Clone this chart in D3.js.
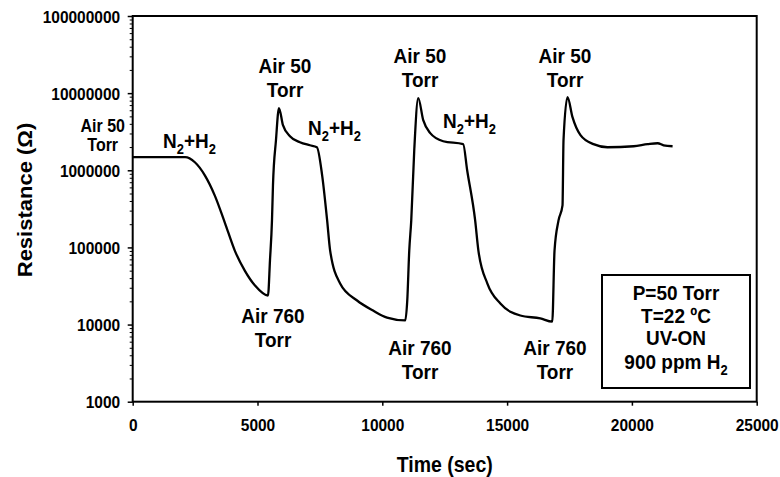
<!DOCTYPE html>
<html>
<head>
<meta charset="utf-8">
<script src="https://cdn.jsdelivr.net/npm/d3@7"></script>
<style>
  html, body { margin: 0; padding: 0; background: #fff; }
  svg { display: block; font-family: "Liberation Sans", Arial, Helvetica, sans-serif; }
</style>
</head>
<body>
<svg id="chart" width="780" height="477"></svg>
<script>
// Sensor resistance versus time, log scale
const timeSec = [0, 2100, 2490, 2890, 3290, 3690, 4090, 4490, 4900, 5420,
  5500, 5580, 5620, 5740, 5860, 6020, 6300, 6700, 7100, 7380,
  7590, 7790, 7910, 8310, 8990, 9630, 10190, 10920, 11000, 11080,
  11160, 11280, 11440, 11640, 11920, 12440, 13240, 13400, 13720, 13850,
  14210, 14730, 15530, 16330, 16810, 16900, 17060, 17220, 17260, 17420,
  17620, 17940, 18460, 19020, 20070, 20630, 21030, 21270, 21630];

const resistanceOhm = [1.48e6, 1.48e6, 1.27e6, 8.6e5, 4.7e5, 2.1e5, 9.1e4, 5.0e4, 3.2e4, 2.38e4,
  6.8e4, 2.24e5, 6.4e5, 2.45e6, 6.4e6, 3.84e6, 2.77e6, 2.31e6, 2.11e6, 1.99e6,
  8.6e5, 2.24e5, 9.1e4, 3.4e4, 2.05e4, 1.52e4, 1.23e4, 1.13e4, 2.05e4, 9.1e4,
  2.24e5, 1.82e6, 8.6e6, 4.46e6, 3.03e6, 2.38e6, 2.18e6, 1.0e6, 2.24e5, 9.1e4,
  3.4e4, 1.87e4, 1.31e4, 1.2e4, 1.09e4, 9.1e4, 2.24e5, 3.5e5, 2.45e6, 8.9e6,
  4.88e6, 2.85e6, 2.18e6, 1.99e6, 2.05e6, 2.18e6, 2.24e6, 2.11e6, 2.05e6];

const xTickValues = [0, 5000, 10000, 15000, 20000, 25000];
const yTickValues = [1e3, 1e4, 1e5, 1e6, 1e7, 1e8];

// Gas-switch annotations, anchored in data space (first line baseline)
const annotations = [
  { lines: ["N_2+H_2"], t: 1214, r: 1.93e6, anchor: "start" },
  { lines: ["N_2+H_2"], t: 7023, r: 2.85e6, anchor: "start" },
  { lines: ["N_2+H_2"], t: 12432, r: 3.51e6, anchor: "start" },
  { lines: ["Air 50", "Torr"], t: 6102, r: 1.81e7, anchor: "middle" },
  { lines: ["Air 50", "Torr"], t: 11510, r: 2.44e7, anchor: "middle" },
  { lines: ["Air 50", "Torr"], t: 17320, r: 2.44e7, anchor: "middle" },
  { lines: ["Air 760", "Torr"], t: 5621, r: 1.045e4, anchor: "middle" },
  { lines: ["Air 760", "Torr"], t: 11510, r: 4.03e3, anchor: "middle" },
  { lines: ["Air 760", "Torr"], t: 16917, r: 4.03e3, anchor: "middle" }
];
const startLabel = ["Air 50", "Torr"];
const conditions = ["P=50 Torr", "T=22 ºC", "UV-ON", "900 ppm H_2"];

const svg = d3.select("#chart");
const W = 780, H = 477;
const margin = { top: 16, right: 23.3, bottom: 75.3, left: 132.7 };
const x0 = margin.left, x1 = W - margin.right;
const y0 = H - margin.bottom, y1 = margin.top;
const STRETCH = 1.1;

const x = d3.scaleLinear().domain([0, 25000]).range([x0, x1]);
const y = d3.scaleLog().domain([1e3, 1e8]).range([y0, y1]);

// Text helper: supports "_d" subscripts and a slight vertical stretch
function addText(parent, px, py, str, size, anchor, rotate) {
  const t = parent.append("text")
    .attr("transform", `translate(${px},${py}) scale(1,${STRETCH})` + (rotate ? ` rotate(${rotate})` : ""))
    .attr("text-anchor", anchor)
    .attr("font-size", size)
    .attr("font-weight", "bold")
    .attr("fill", "#000");
  const parts = str.split(/_(\d)/);
  let sub = false;
  parts.forEach((p, i) => {
    if (p === "") return;
    const isSub = i % 2 === 1;
    const ts = t.append("tspan").text(p);
    if (isSub && !sub) { ts.attr("dy", size * 0.28).attr("font-size", size * 0.68); sub = true; }
    else if (!isSub && sub) { ts.attr("dy", -size * 0.28); sub = false; }
  });
  return t;
}

// Plot frame
svg.append("rect")
  .attr("x", x0).attr("y", y1)
  .attr("width", x1 - x0).attr("height", y0 - y1)
  .attr("fill", "none").attr("stroke", "#000").attr("stroke-width", 2);

// X axis
const gx = svg.append("g").attr("transform", `translate(0,${y0})`)
  .call(d3.axisBottom(x).tickValues(xTickValues).tickSize(4).tickSizeOuter(0).tickFormat(d3.format("d")));
gx.select(".domain").remove();
gx.selectAll(".tick text").remove();
gx.selectAll(".tick line").attr("stroke", "#000").attr("stroke-width", 1.5);
gx.selectAll(".tick").each(function (d) {
  addText(d3.select(this), 0, 29.3, d3.format("d")(d), 15.5, "middle");
});

// Y axis: decades labelled, log minor ticks unlabelled
const gy = svg.append("g").attr("transform", `translate(${x0},0)`)
  .call(d3.axisLeft(y).tickValues(yTickValues).tickSize(5).tickSizeOuter(0).tickFormat(d3.format("d")));
gy.select(".domain").remove();
gy.selectAll(".tick text").remove();
gy.selectAll(".tick line").attr("stroke", "#000").attr("stroke-width", 1.5);
gy.selectAll(".tick").each(function (d) {
  addText(d3.select(this), -12.5, 6, d3.format("d")(d), 15.5, "end");
});
const minor = y.ticks().filter(v => Math.abs(Math.log10(v) - Math.round(Math.log10(v))) > 1e-9);
const gyMinor = svg.append("g").attr("transform", `translate(${x0},0)`)
  .call(d3.axisLeft(y).tickValues(minor).tickSize(3).tickSizeOuter(0).tickFormat(""));
gyMinor.select(".domain").remove();
gyMinor.selectAll(".tick line").attr("stroke", "#000").attr("stroke-width", 1);

// Axis titles
addText(svg, (x0 + x1) / 2, 472, "Time (sec)", 19.5, "middle");
addText(svg, 32, 200, "Resistance (Ω)", 20, "middle", -90);

// Resistance trace
const series = timeSec.map((t, i) => ({ t, r: resistanceOhm[i] }));
svg.append("path")
  .datum(series)
  .attr("fill", "none")
  .attr("stroke", "#000")
  .attr("stroke-width", 2.3)
  .attr("stroke-linejoin", "round")
  .attr("d", d3.line().x(d => x(d.t)).y(d => y(d.r)).curve(d3.curveMonotoneX));

// Annotations
annotations.forEach(a => {
  a.lines.forEach((ln, i) => addText(svg, x(a.t), y(a.r) + i * 24, ln, 19, a.anchor));
});
startLabel.forEach((ln, i) => addText(svg, x0 - 30, y(3.12e6) + i * 19, ln, 16, "middle"));

// Conditions box
const bx0 = x1 - 154.7, bx1 = x1 - 6.7, by0 = 275, by1 = 388;
svg.append("rect")
  .attr("x", bx0).attr("y", by0).attr("width", bx1 - bx0).attr("height", by1 - by0)
  .attr("fill", "#fff").attr("stroke", "#000").attr("stroke-width", 2);
const boxBase = [300, 323, 345, 369];
conditions.forEach((ln, i) => addText(svg, (bx0 + bx1) / 2, boxBase[i], ln, 19, "middle"));
</script>
</body>
</html>
